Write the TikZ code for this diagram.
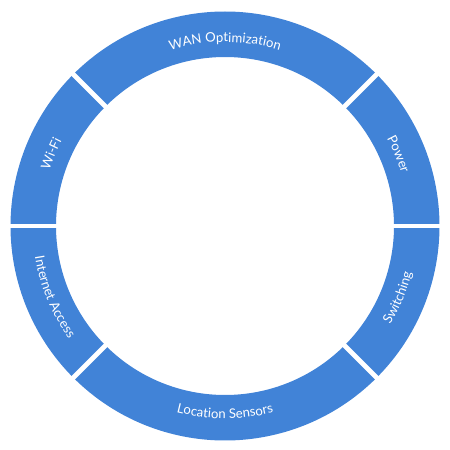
\documentclass[tikz,border=0pt]{standalone}
\usepackage{fontspec}
\newfontfamily\lato{Lato}
\usetikzlibrary{decorations.text}
\definecolor{ringblue}{RGB}{65,131,215}

\begin{document}
\begin{tikzpicture}[
  seg/.style   = {fill=ringblue},
  gap/.style   = {draw=white, line width=2.8pt},
  cwlabel/.style  = {decorate, decoration={text along path, text align=center,
                     text={|\lato\fontsize{7.5}{9}\selectfont\color{white}|#1}}},
  ccwlabel/.style = {cwlabel=#1},
]
\useasboundingbox (0,0) rectangle (9,9);

\begin{scope}[shift={(4.5,4.48)}]
% ---- ring segments ---------------------------------------------------------
\foreach \a/\b in {0/45,45/135,135/180,180/225,225/315,315/360}
  \fill[seg] (\a:4.29) arc[start angle=\a, end angle=\b, radius=4.29]
    -- (\b:3.38) arc[start angle=\b, end angle=\a, radius=3.38] -- cycle;

% ---- white gaps ------------------------------------------------------------
\foreach \a in {0,45,135,180,225,315}
  \draw[gap] (\a:3.25) -- (\a:4.42);

% ---- labels, upper half (tops outward) -------------------------------------
\path[cwlabel={WAN Optimization}] (135:3.68) arc[start angle=135, end angle=45, radius=3.68];
\path[cwlabel={Power}] (45:3.68) arc[start angle=45, end angle=0, radius=3.68];
\path[cwlabel={Wi-Fi}] (180:3.68) arc[start angle=180, end angle=135, radius=3.68];

% ---- labels, lower half (tops inward) --------------------------------------
\path[ccwlabel={Internet Access}] (180:3.85) arc[start angle=180, end angle=225, radius=3.85];
\path[ccwlabel={Location Sensors}] (225:3.85) arc[start angle=225, end angle=315, radius=3.85];
\path[ccwlabel={Switching}] (315:3.85) arc[start angle=315, end angle=360, radius=3.85];
\end{scope}

\end{tikzpicture}
\end{document}
